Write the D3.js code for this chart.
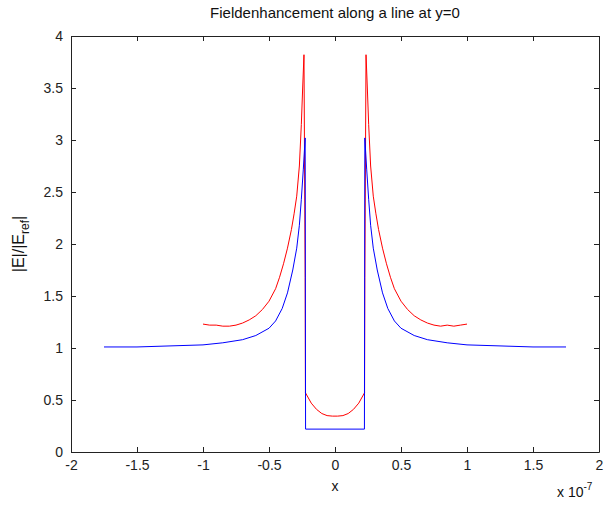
<!DOCTYPE html>
<html><head><meta charset="utf-8">
<script src="https://cdn.jsdelivr.net/npm/d3@7"></script>
<style>body{margin:0;background:#fff}svg{display:block}text{font-family:"Liberation Sans",Arial,sans-serif}</style>
</head><body>
<svg id="c" width="604" height="505"></svg>
<script>
// x in units of 1e-7
const blueX = [-1.75,-1.5,-1.25,-1.0,-0.85,-0.7,-0.6,-0.5,-0.45,-0.4,-0.36,-0.32,-0.29,-0.27,-0.255,-0.24,-0.226,-0.223,0.223,0.226,0.24,0.255,0.27,0.29,0.32,0.36,0.4,0.45,0.5,0.6,0.7,0.85,1.0,1.25,1.5,1.75];
const blueY = [1.01,1.01,1.02,1.03,1.05,1.08,1.12,1.19,1.26,1.38,1.53,1.75,1.96,2.18,2.43,2.72,3.02,0.22,0.22,3.02,2.72,2.43,2.18,1.96,1.75,1.53,1.38,1.26,1.19,1.12,1.08,1.05,1.03,1.02,1.01,1.01];
const redX = [-1.0,-0.95,-0.9,-0.85,-0.8,-0.75,-0.7,-0.65,-0.6,-0.55,-0.5,-0.45,-0.42,-0.39,-0.36,-0.33,-0.31,-0.29,-0.27,-0.255,-0.245,-0.235,-0.226,-0.224,-0.18,-0.14,-0.1,-0.06,-0.02,0.02,0.06,0.1,0.14,0.18,0.224,0.226,0.235,0.245,0.255,0.27,0.29,0.31,0.33,0.36,0.39,0.42,0.45,0.5,0.55,0.6,0.65,0.7,0.75,0.8,0.85,0.9,0.95,1.0];
const redY = [1.23,1.22,1.22,1.21,1.21,1.22,1.24,1.27,1.31,1.37,1.45,1.57,1.68,1.81,1.96,2.14,2.29,2.46,2.75,3.15,3.5,3.82,1.68,0.57,0.47,0.41,0.37,0.35,0.345,0.345,0.35,0.37,0.41,0.47,0.57,1.68,3.82,3.5,3.15,2.75,2.46,2.29,2.14,1.96,1.81,1.68,1.57,1.45,1.37,1.31,1.27,1.24,1.22,1.21,1.22,1.21,1.22,1.23];
const xTicks = [-2,-1.5,-1,-0.5,0,0.5,1,1.5,2];
const yTicks = [0,0.5,1,1.5,2,2.5,3,3.5,4];
const titleText = "Fieldenhancement along a line at y=0";

const svg = d3.select("#c");
const L=71,R=599,T=36,B=452;
const x = d3.scaleLinear().domain([-2,2]).range([L,R]);
const y = d3.scaleLinear().domain([0,4]).range([B,T]);

const line = d3.line().x(d=>x(d[0])).y(d=>y(d[1])).curve(d3.curveLinear);
svg.append("path").datum(d3.zip(redX,redY)).attr("d",line).attr("fill","none").attr("stroke","#ff0000").attr("stroke-width",1);
svg.append("path").datum(d3.zip(blueX,blueY)).attr("d",line).attr("fill","none").attr("stroke","#0000ff").attr("stroke-width",1);

const fmt = d=>String(d);
const tc="#222";
const gB = svg.append("g").attr("transform",`translate(0,${B})`).call(d3.axisBottom(x).tickValues(xTicks).tickFormat(fmt).tickSizeInner(-5).tickSizeOuter(0).tickPadding(8));
const gT = svg.append("g").attr("transform",`translate(0,${T})`).call(d3.axisTop(x).tickValues(xTicks).tickFormat("").tickSizeInner(-5).tickSizeOuter(0));
const gL = svg.append("g").attr("transform",`translate(${L},0)`).call(d3.axisLeft(y).tickValues(yTicks).tickFormat(fmt).tickSizeInner(-5).tickSizeOuter(0).tickPadding(8));
const gR = svg.append("g").attr("transform",`translate(${R},0)`).call(d3.axisRight(y).tickValues(yTicks).tickFormat("").tickSizeInner(-5).tickSizeOuter(0));
[gB,gT,gL,gR].forEach(g=>{
  g.select(".domain").attr("stroke",tc);
  g.selectAll(".tick line").attr("stroke",tc);
  g.selectAll("text").attr("fill",tc).style("font-size","14px").style("font-family","'Liberation Sans',Arial,sans-serif");
});

svg.append("text").attr("x",(L+R)/2).attr("y",18).attr("text-anchor","middle").attr("fill","#111").style("font-size","15px").text(titleText);
svg.append("text").attr("x",(L+R)/2).attr("y",491).attr("text-anchor","middle").attr("fill","#111").style("font-size","14px").text("x");
const ex = svg.append("text").attr("x",557).attr("y",497).attr("fill","#111").style("font-size","14px");
ex.append("tspan").text("x 10");
ex.append("tspan").attr("dy",-7).style("font-size","10px").text("-7");
const yl = svg.append("text").attr("transform",`translate(24,${(T+B)/2}) rotate(-90)`).attr("text-anchor","middle").attr("fill","#111").style("font-size","16px");
yl.append("tspan").text("|E|/|E");
yl.append("tspan").attr("dy",5).style("font-size","12px").text("ref");
yl.append("tspan").attr("dy",-5).text("|");
</script>
</body></html>
